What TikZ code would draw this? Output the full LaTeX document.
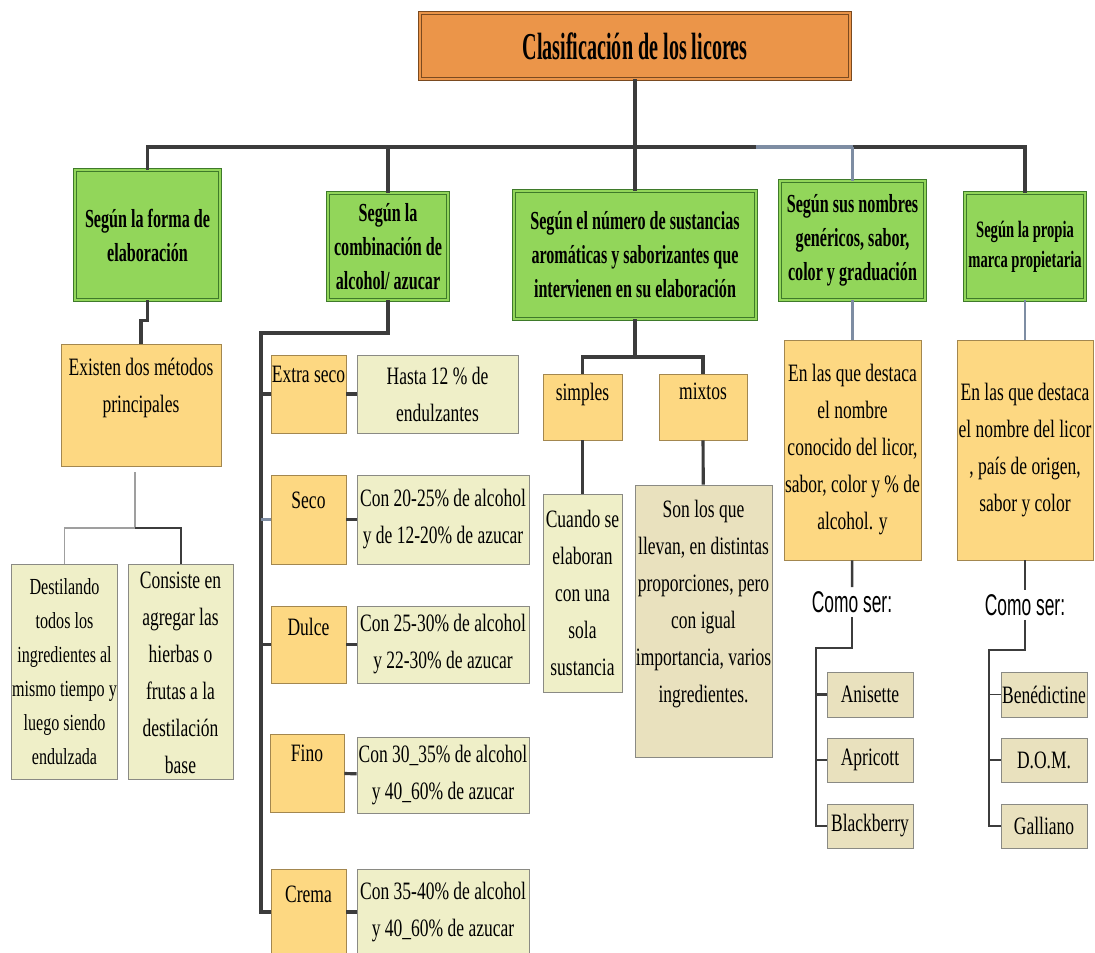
\documentclass[tikz,border=0pt]{standalone}
\usepackage{fontspec}
\setmainfont[FakeStretch=0.7]{Liberation Serif}
\newfontfamily\hdfont[FakeStretch=0.62]{Liberation Serif}
\newfontfamily\ttlfont[FakeStretch=0.53]{Liberation Serif}
\newfontfamily\comofont[FakeStretch=0.58]{Liberation Sans}
\usetikzlibrary{positioning}

\definecolor{ttlc}{HTML}{EB9549}
\definecolor{ttlline}{HTML}{7A4A20}
\definecolor{grnc}{HTML}{92D65A}
\definecolor{grnline}{HTML}{3E7A2A}
\definecolor{orgc}{HTML}{FDD882}
\definecolor{orgline}{HTML}{A3874F}
\definecolor{lgtc}{HTML}{EFEFC8}
\definecolor{tanc}{HTML}{E9E1BE}
\definecolor{boxline}{HTML}{8A8A84}
\definecolor{lnc}{HTML}{3C3C3C}
\definecolor{blc}{HTML}{7E8DA3}

\begin{document}
\begin{tikzpicture}[
            x=1pt, y=-1pt,
            font=\fontsize{25}{37}\selectfont,
            sz/.style 2 args={minimum width=#1, minimum height=#2},
            ln/.style={draw=lnc, line width=3.2pt},
            ln2/.style={draw=lnc, line width=2.6pt},
            bln/.style={draw=blc, line width=2.2pt},
            gln/.style={draw=gray!75, line width=1.2pt},
            ttlbox/.style={draw=ttlline, fill=ttlc, double=ttlc, double distance=2.4pt, line width=0.8pt,
                font=\ttlfont\bfseries\fontsize{38}{44}\selectfont},
            grn/.style={draw=grnline, fill=grnc, double=grnc, double distance=2.4pt, line width=0.8pt,
                align=center, inner sep=0pt, font=\hdfont\bfseries\fontsize{26}{34}\selectfont},
            org/.style={draw=orgline, fill=orgc, line width=0.8pt, align=center, inner sep=1pt},
            lgt/.style={draw=boxline, fill=lgtc, line width=0.8pt, align=center, inner sep=1pt},
            tan/.style={draw=boxline, fill=tanc, line width=0.8pt, align=center, inner sep=1pt},
            toptxt/.style={anchor=north, align=center, inner sep=0pt, yshift=-#1},
            como/.style={font=\comofont\fontsize{30}{34}\selectfont, inner sep=4pt}
        ]
            \useasboundingbox (0,0) rectangle (1095,953);

            \node[ttlbox, sz={430}{66}] (ttl) at (635,46) {Clasificación de los licores};
            \node[grn, sz={145}{130}] (g1) at (147.5,235) {Según la forma de\\elaboración};
            \node[grn, sz={120}{107}] (g2) at (388,246.5) {Según la\\combinación de\\alcohol/ azucar};
            \node[grn, sz={242}{128}] (g3) at (635,255) {Según el número de sustancias\\aromáticas y saborizantes que\\intervienen en su elaboración};
            \node[grn, sz={145}{119}] (g4) at (852.5,240.5) {Según sus nombres\\genéricos, sabor,\\color y graduación};
            \node[grn, sz={120}{107}, font=\hdfont\bfseries\fontsize{23.5}{30}\selectfont] (g5) at (1025,246.5) {Según la propia\\marca propietaria};

            \coordinate (bus) at (635,147);
            \draw[ln] (g1.north) -- (g1.north |- bus) -- (g5.north |- bus) -- (g5.north);
            \draw[bln, line width=3.2pt] (g3.north east |- bus) -- (g4.north |- bus);
            \draw[ln] (ttl) -- (g3);
            \draw[ln] (g2.north) -- (g2.north |- bus);
            \draw[bln] (g4.north) -- (g4.north |- bus);

            % forma de elaboracion
            \node[org, sz={160}{122}, label={[toptxt=14]north:Existen dos métodos\\principales}] (o1) at (141,405) {};
            \node[lgt, sz={105}{215}, font=\fontsize{23}{34}\selectfont] (d1) at (64.5,671.5) {Destilando\\todos los\\ingredientes al\\mismo tiempo y\\luego siendo\\endulzada};
            \node[lgt, sz={105}{215}, label={[toptxt=8]north:Consiste en\\agregar las\\hierbas o\\frutas a la\\destilación\\base}] (d2) at (180.5,671.5) {};
            \draw[ln] (g1.south) -- ++(0,20) -| (o1.north);
            \coordinate (f1) at (135,528);
            \draw[gln] ([xshift=-6pt,yshift=-6pt]o1.south) -- (f1) -| (d1.north);
            \draw[ln, line width=2pt] (f1) -| (d2.north);

            % alcohol / azucar
            \node[org, sz={75}{78}, label={[toptxt=11]north:Extra seco}] (xseco) at (308.5,394) {};
            \node[org, sz={75}{89}, label={[toptxt=17]north:Seco}] (seco) at (308.5,519.5) {};
            \node[org, sz={75}{77}, label={[toptxt=12]north:Dulce}] (dulce) at (308.5,644.5) {};
            \node[org, sz={74}{78}, label={[toptxt=11]north:Fino}] (fino) at (307,773) {};
            \node[org, sz={75}{86}, label={[toptxt=17]north:Crema}] (crema) at (308.5,912) {};
            \node[lgt, sz={161}{78}] (txseco) at (437.5,394) {Hasta 12 \% de\\endulzantes};
            \node[lgt, sz={172}{89}] (tseco) at (443,519.5) {Con 20-25\% de alcohol\\y de 12-20\% de azucar};
            \node[lgt, sz={172}{77}] (tdulce) at (443,644.5) {Con 25-30\% de alcohol\\y 22-30\% de azucar};
            \node[lgt, sz={172}{76}] (tfino) at (443,775) {Con 30\_35\% de alcohol\\y 40\_60\% de azucar};
            \node[lgt, sz={172}{86}] (tcrema) at (443,912) {Con 35-40\% de alcohol\\y 40\_60\% de azucar};
            \coordinate (sp2) at (261,333);
            \draw[ln] (g2.south) |- (sp2) -- (sp2 |- crema.west) -- (crema.west);
            \draw[ln] (sp2 |- xseco.west) -- (xseco.west);
            \draw[bln] (sp2 |- seco.west) -- (seco.west);
            \draw[ln] (sp2 |- dulce.west) -- (dulce.west);
            \draw[ln] (xseco) -- (txseco);
            \draw[ln] (seco) -- (tseco);
            \draw[ln] (dulce) -- (tdulce);
            \draw[ln] (fino) -- (tfino);
            \draw[ln] (crema) -- (tcrema);

            % numero de sustancias
            \node[org, sz={79}{66}, label={[toptxt=9]north:simples}] (simp) at (582.5,407) {};
            \node[org, sz={88}{66}, label={[toptxt=9]north:mixtos}] (mixt) at (703,407) {};
            \node[lgt, sz={79}{198}] (cuando) at (582.5,593) {Cuando se\\elaboran\\con una\\sola\\sustancia};
            \node[tan, sz={137}{272}, label={[toptxt=15]north:Son los que\\llevan, en distintas\\proporciones, pero\\con igual\\importancia, varios\\ingredientes.}] (son) at (703.5,621) {};
            \coordinate (f3) at (635,357);
            \draw[ln] (g3) -- (f3);
            \draw[ln] (simp.north) |- (f3) -| (mixt.north);
            \draw[ln] (simp) -- (cuando);
            \draw[ln] (mixt) -- (son);

            % nombres y marcas
            \node[org, sz={135}{220}] (o4) at (852.5,450) {En las que destaca\\el nombre\\conocido del licor,\\sabor, color y \% de\\alcohol. y};
            \node[org, sz={136}{220}] (o5) at (1025,450) {En las que destaca\\el nombre del licor\\, país de origen,\\sabor y color};
            \draw[bln] (g4) -- (o4);
            \draw[bln] (g5) -- (o5);
            \node[como] (cs4) at (852,602) {Como ser:};
            \node[como] (cs5) at (1025,605) {Como ser:};
            \draw[ln2] (o4) -- (cs4);
            \draw[ln2] (o5) -- (cs5);
            \node[tan, sz={86}{45}] (anis) at (870,694.5) {Anisette};
            \node[tan, sz={86}{44}] (apri) at (870,760) {Apricott};
            \node[tan, sz={86}{44}] (blak) at (870,826) {Blackberry};
            \node[tan, sz={86}{45}] (bene) at (1044,694.5) {Benédictine};
            \node[tan, sz={86}{44}] (dom) at (1044,760) {D.O.M.};
            \node[tan, sz={86}{44}] (gall) at (1044,826) {Galliano};
            \coordinate (sp4) at (816,648);
            \coordinate (sp5) at (989,650);
            \draw[ln2] (cs4) -- (cs4 |- sp4) -- (sp4) -- (sp4 |- blak.west) -- (blak.west);
            \draw[ln2] (sp4 |- anis.west) -- (anis.west);
            \draw[ln2] (sp4 |- apri.west) -- (apri.west);
            \draw[ln2] (cs5) -- (cs5 |- sp5) -- (sp5) -- (sp5 |- gall.west) -- (gall.west);
            \draw[ln2, line width=1.2pt] (sp5 |- bene.west) -- (bene.west);
            \draw[ln2] (sp5 |- dom.west) -- (dom.west);
        \end{tikzpicture}
\end{document}
